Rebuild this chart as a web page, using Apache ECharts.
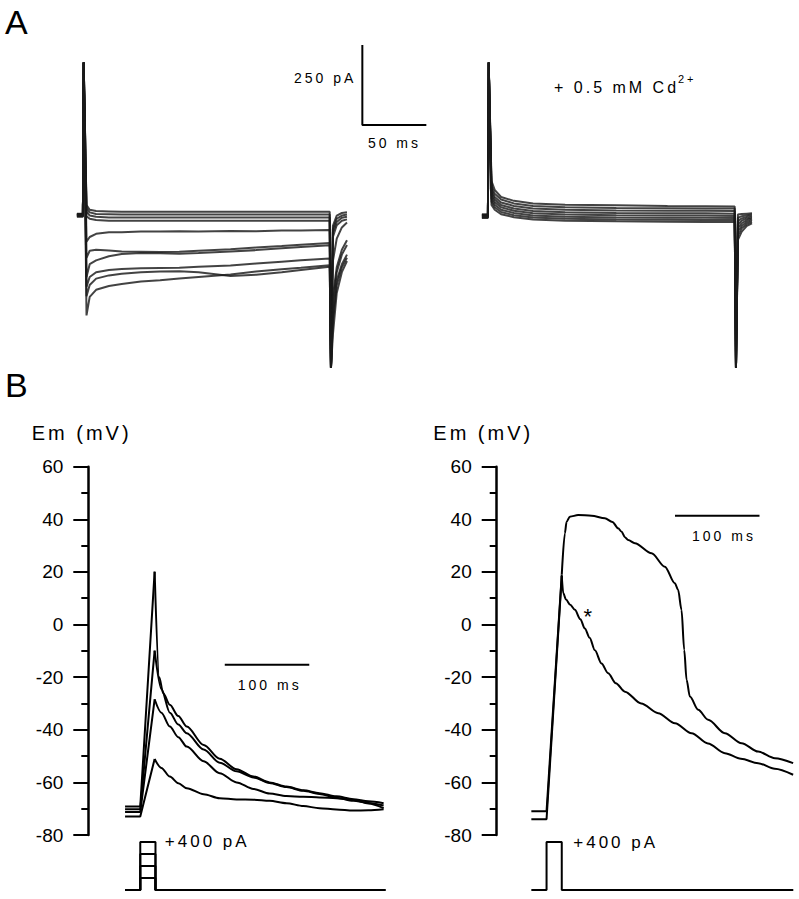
<!DOCTYPE html>
<html><head><meta charset="utf-8">
<script src="https://cdn.jsdelivr.net/npm/echarts@6.0.0/dist/echarts.min.js"></script>
<style>
html,body{margin:0;padding:0;background:#fff;}
#c{width:799px;height:899px;}
#c text[style*="Arial"]{letter-spacing:3px;}
</style></head><body><div id="c"></div><script>
// ---------- Panel A: voltage-clamp current traces (ms, pA) ----------
const tA = [-5, -0.3, 0.3, 2.5, 5, 10, 20, 30, 45, 60, 75, 90, 115, 135, 155, 170, 192.5, 193.5, 195, 198, 202, 206];
const ctrl1  = [-2, -2, 470, 25, 10, 6, 5, 4, 4, 4, 4, 4, 4, 4, 4, 4, 4, -484, -40, -8, 0, 2];
const ctrl2  = [-4, -4, 470, 15, 2, -3, -4, -5, -5, -5, -5, -5, -5, -5, -5, -5, -5, -484, -50, -18, -8, -5];
const ctrl3  = [-6, -6, 470, 5, -8, -12, -14, -14, -14, -14, -14, -14, -14, -14, -14, -14, -14, -484, -60, -28, -15, -12];
const ctrl4  = [-8, -8, 470, -10, -18, -22, -24, -24, -24, -24, -24, -24, -24, -24, -24, -24, -24, -484, -75, -38, -24, -20];
const ctrl5  = [-10, -10, 470, -90, -75, -65, -60, -60, -58, -58, -57, -58, -56, -57, -55, -55, -53, -484, -150, -80, -45, -30];
const ctrl6  = [-12, -12, 470, -140, -118, -115, -117, -120, -121, -122, -121, -118, -113, -108, -103, -99, -94, -484, -260, -170, -115, -85];
const ctrl7  = [-3, -3, 470, -200, -160, -148, -135, -128, -125, -126, -127, -125, -120, -116, -110, -106, -101, -484, -280, -185, -130, -100];
const ctrl8  = [-5, -5, 470, -230, -200, -185, -178, -175, -173, -172, -171, -168, -164, -158, -152, -148, -142, -484, -320, -210, -160, -130];
const ctrl9  = [-7, -7, 470, -260, -225, -205, -195, -190, -185, -183, -182, -185, -197, -193, -185, -178, -168, -484, -340, -225, -170, -140];
const ctrl10 = [-9, -9, 470, -320, -262, -240, -228, -222, -214, -210, -205, -200, -192, -183, -176, -171, -163, -484, -380, -250, -185, -150];

const tC = [-5, -0.3, 0.3, 2.5, 5, 10, 20, 35, 60, 100, 140, 170, 192.5, 193.5, 195, 198, 202, 206];
const cd1 = [-4, -4, 470, 100, 72, 50, 38, 30, 26, 24, 22, 21, 20, -484, -5, -3, -2, -1];
const cd2 = [-6, -6, 470, 85, 60, 42, 30, 22, 18, 16, 15, 14, 14, -484, -15, -10, -7, -5];
const cd3 = [-8, -8, 470, 75, 50, 33, 22, 14, 10, 8, 7, 7, 6, -484, -25, -17, -12, -9];
const cd4 = [-10, -10, 470, 65, 42, 25, 14, 6, 2, 0, -1, -1, -2, -484, -35, -24, -17, -13];
const cd5 = [-12, -12, 470, 55, 34, 18, 7, -1, -5, -7, -8, -8, -9, -484, -46, -32, -22, -17];
const cd6 = [-14, -14, 470, 45, 26, 10, 0, -8, -12, -14, -15, -15, -16, -484, -57, -40, -28, -22];
const cd7 = [-16, -16, 470, 35, 18, 3, -7, -14, -18, -20, -21, -22, -22, -484, -70, -48, -34, -27];
const cd8 = [-6, -6, 470, 25, 10, -4, -13, -20, -24, -26, -27, -28, -28, -484, -84, -58, -40, -32];

// scale bar A: 250 pA x 50 ms
const barA = [[218, 525], [218, 275], [268, 275]];

// ---------- Panel B: current-clamp (ms, mV) ----------
const bBase = [-69.2, -70.2, -71.3, -73];
const bDecay1 = [[17,20.1],[22.5,-20],[27,-26],[35,-30.5],[45,-34.8],[55,-38.8],[75,-45.8],[94,-51],[114,-55],[134,-57.8],[153,-60],[173,-61.6],[193,-63],[212,-64.1],[232,-65.3],[252,-66.4],[270,-67.2],[288,-67.9]];
const bDecay2 = [[17,-9.9],[25,-24.5],[35,-33.5],[45,-38],[55,-41.3],[75,-47.5],[94,-52.5],[114,-55.8],[134,-58.1],[153,-60.2],[173,-61.8],[193,-63.2],[212,-64.4],[232,-65.8],[252,-67],[270,-67.8],[288,-68.8]];
const bDecay3 = [[17,-28.4],[25,-33.5],[35,-38.8],[45,-42.8],[55,-46.4],[75,-52],[94,-56.5],[114,-60],[134,-62.5],[153,-64.2],[173,-65.2],[193,-65.5],[212,-65.7],[232,-66],[252,-66.6],[270,-68],[288,-69.8]];
const bDecay4 = [[17,-51.1],[25,-54.5],[35,-57.8],[45,-60.3],[55,-62.2],[75,-64.5],[94,-66],[114,-66.5],[134,-66.6],[153,-67],[173,-67.9],[193,-69],[212,-69.8],[232,-70.3],[252,-70.7],[270,-70.6],[288,-70.2]];

const apBase = -71, starBase = -74;
const apTrace = [[18,19],[21.7,34.7],[23.7,39.1],[27.6,41],[37.4,41.6],[53.3,41.4],[69,40.4],[78,39],[84.7,36.6],[88.8,35.3],[92.7,33.2],[96.6,32.1],[104.5,30.9],[124.3,27.1],[140,22],[151.8,15.7],[155.7,13.2],[159.7,5.6],[162.9,-9.6],[165.7,-21],[169.6,-27.4],[179.4,-32.4],[191.2,-36.2],[211,-41.3],[230.8,-45.1],[250.4,-48.3],[270.2,-50.8],[291.8,-52.7]];
const starTrace = [[18,18.5],[19.7,12],[23,9.5],[28,7.5],[33.5,5.6],[40,2],[45.3,-1.5],[51,-5],[57.2,-9.8],[65,-14.8],[72.9,-18.5],[82,-22.3],[92.7,-25.5],[112,-30],[132.1,-33.7],[152,-37.5],[171.6,-41.3],[191,-45.2],[211,-48.9],[230,-51],[250.4,-52.7],[270,-54.8],[291.8,-57.1]];

// stimulus (pA) : pulse 0..18 ms
const stimAmpsLeft = [100, 200, 300, 400];
const stimAmpsRight = [400];
const stimLeftEnd = 290, stimRightEnd = 292, stimStart = -18, pulseEnd = 18;

// scale bars B (ms, mV)
const barBL = [[100, -15.3], [200, -15.3]];
const barBR = [[152, 41.4], [252, 41.4]];

// text labels anchored in data coordinates: [t, value, text, align, size]
const labelsA = [[213.3, 421, '250 pA', 'right', 14], [243.1, 220, '50 ms', 'center', 14]];
const labelsBL = [[153.2, -23, '100 ms', 'center', 14]];
const labelsBR = [[210, 33.8, '100 ms', 'center', 14], [50.5, 3.2, '*', 'center', 22]];
const stimLabelL = [[29.1, 408, '+400 pA', 'left', 17]];
const stimLabelR = [[31.6, 400, '+400 pA', 'left', 17]];
const yTicksB = { min: -80, max: 60, interval: 20 };

// ---------- build ----------
const FONT_PLAIN = 'Liberation Sans, sans-serif';
const FONT_SPACED = 'Liberation Sans, Arial, sans-serif';
const zip = (t, v) => t.map((x, i) => [x, v[i]]);

const series = [];
function line(gi, data, opt) {
  series.push(Object.assign({
    type: 'line', xAxisIndex: gi, yAxisIndex: gi, data: data,
    symbol: 'none', showSymbol: false, silent: true, animation: false,
    lineStyle: { color: '#000', width: 2 }
  }, opt || {}));
}
function labels(gi, items) {
  series.push({
    type: 'scatter', xAxisIndex: gi, yAxisIndex: gi, symbolSize: 0, silent: true, animation: false,
    itemStyle: { color: '#000' },
    data: items.map(it => ({
      value: [it[0], it[1]],
      label: { show: true, position: [0, 0], formatter: it[2], align: it[3], verticalAlign: 'middle',
               fontSize: it[4], fontFamily: FONT_SPACED, color: '#000', opacity: 1,
               textBorderWidth: 0, textShadowBlur: 0 }
    }))
  });
}

const aStyle = { color: '#1a1a1a', width: 2, opacity: 0.82 };
[ctrl1, ctrl2, ctrl3, ctrl4, ctrl5, ctrl6, ctrl7, ctrl8, ctrl9, ctrl10].forEach(v => line(0, zip(tA, v), { lineStyle: aStyle }));
[cd1, cd2, cd3, cd4, cd5, cd6, cd7, cd8].forEach(v => line(1, zip(tC, v), { lineStyle: aStyle }));
line(0, barA, { lineStyle: { color: '#000', width: 2 } });
labels(0, labelsA);

const decays = [bDecay1, bDecay2, bDecay3, bDecay4];
decays.forEach((d, i) => {
  line(2, [[-18, bBase[i]], [0, bBase[i]], d[0]]);
  line(2, d, { smooth: 0.3, smoothMonotone: 'x' });
});
line(2, barBL, { lineStyle: { color: '#000', width: 2 } });
labels(2, labelsBL);

stimAmpsLeft.forEach(a => line(3, [[stimStart, 0], [0, 0], [0, a], [pulseEnd, a], [pulseEnd, 0], [stimLeftEnd, 0]]));
labels(3, stimLabelL);

line(4, [[-18, apBase], [0, apBase], apTrace[0]]);
line(4, apTrace, { smooth: 0.3, smoothMonotone: 'x' });
line(4, [[-18, starBase], [0, starBase], starTrace[0]]);
line(4, starTrace, { smooth: 0.3, smoothMonotone: 'x' });
line(4, barBR, { lineStyle: { color: '#000', width: 2 } });
labels(4, labelsBR);

stimAmpsRight.forEach(a => line(5, [[stimStart, 0], [0, 0], [0, a], [pulseEnd, a], [pulseEnd, 0], [stimRightEnd, 0]]));
labels(5, stimLabelR);

const hiddenAxis = (gi, min, max) => ({ type: 'value', gridIndex: gi, min, max, show: false, splitLine: { show: false } });
const visibleY = (gi) => ({
  type: 'value', gridIndex: gi, min: yTicksB.min, max: yTicksB.max, interval: yTicksB.interval,
  position: 'left', offset: 0,
  splitLine: { show: false },
  axisLine: { show: true, onZero: false, lineStyle: { color: '#000', width: 2.5 } },
  axisTick: { show: true, inside: false, length: 15, lineStyle: { color: '#000', width: 2 } },
  minorTick: { show: true, splitNumber: 2, length: 7, lineStyle: { color: '#000', width: 2 } },
  axisLabel: { show: true, margin: 25, fontSize: 19, fontFamily: FONT_PLAIN, color: '#000' }
});

const grids = [
  { left: 60.26, top: 40.2, width: 380.16, height: 339.2 },
  { left: 465.26, top: 40.2, width: 330.24, height: 339.2 },
  { left: 88.3, top: 466.7, width: 301.24, height: 368.3 },
  { left: 88.3, top: 836, width: 301.24, height: 60 },
  { left: 496.7, top: 466.7, width: 299.13, height: 368.3 },
  { left: 496.7, top: 836, width: 299.13, height: 60 }
].map(g => Object.assign({ containLabel: false, outerBoundsMode: 'none', show: false }, g));

const xAxes = [hiddenAxis(0, -18, 279), hiddenAxis(1, -18, 240), hiddenAxis(2, -61.5, 295), hiddenAxis(3, -61.5, 295), hiddenAxis(4, -59, 295), hiddenAxis(5, -59, 295)];
const yAxes = [hiddenAxis(0, -520, 540), hiddenAxis(1, -520, 540), visibleY(2), hiddenAxis(3, -50, 450), visibleY(4), hiddenAxis(5, -50, 450)];

function txt(x, y, text, size, family) {
  return { type: 'text', x: x, y: y, silent: true,
    style: { text: text, fontSize: size, fontFamily: family, fill: '#000',
             align: 'left', textAlign: 'left', verticalAlign: 'middle', textVerticalAlign: 'middle' } };
}

const option = {
  animation: false,
  backgroundColor: '#fff',
  grid: grids, xAxis: xAxes, yAxis: yAxes, series: series,
  graphic: { elements: [
    txt(5, 21.5, 'A', 34, FONT_PLAIN),
    txt(5, 384.5, 'B', 34, FONT_PLAIN),
    txt(31.7, 432.5, 'Em (mV)', 20, FONT_SPACED),
    txt(433.3, 433, 'Em (mV)', 20, FONT_SPACED),
    txt(554, 87, '+ 0.5 mM Cd', 16, FONT_SPACED),
    txt(678, 78.5, '2+', 11, FONT_SPACED)
  ] }
};

const chart = echarts.init(document.getElementById('c'), null, { renderer: 'svg', width: 799, height: 899 });
chart.setOption(option);
function spacing() {
  document.querySelectorAll('#c text').forEach(el => {
    const ff = (getComputedStyle(el).fontFamily || '') + (el.getAttribute('style') || '') + (el.getAttribute('font-family') || '');
    if (ff.indexOf('Arial') >= 0) el.style.letterSpacing = '3px';
  });
}
chart.on('finished', spacing);
spacing();
</script></body></html>
